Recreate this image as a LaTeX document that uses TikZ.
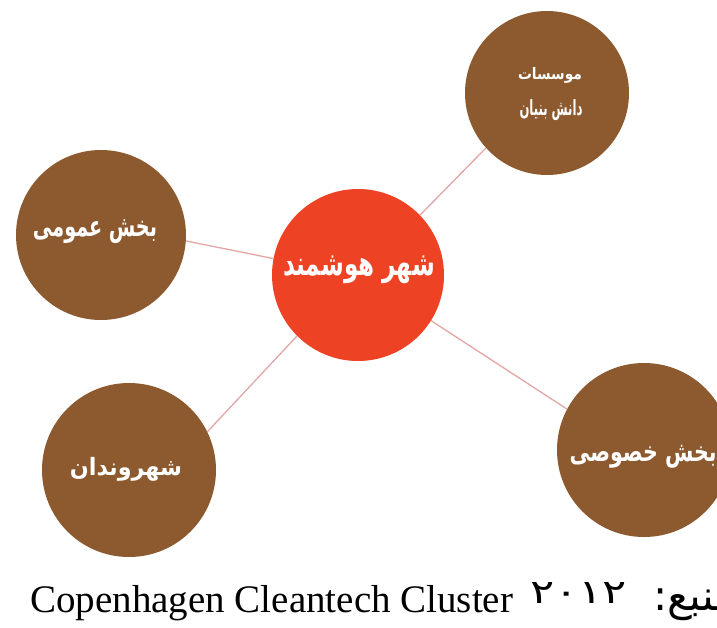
\documentclass[tikz,border=0pt]{standalone}
\usepackage{fontspec}
\setmainfont{Liberation Serif}
\newfontfamily\fafont[Script=Arabic]{DejaVu Sans}
\TeXXeTstate=1
\definecolor{brownc}{HTML}{8C5A2E}
\definecolor{redc}{HTML}{EE4224}
\definecolor{linec}{HTML}{E2A7A5}
\newcommand\fitw[3]{\resizebox*{#1}{#2}{#3}}
\begin{document}
\begin{tikzpicture}[x=1pt,y=-1pt,
  hub/.style={circle, fill=redc, minimum size=172pt, inner sep=0pt},
  sat/.style={circle, fill=brownc, minimum size=170pt, inner sep=0pt},
  link/.style={draw=linec, line width=1.3pt},
  lbl/.style={text=white, font=\fafont\bfseries, inner sep=0pt}]
\useasboundingbox (0,0) rectangle (717,627);
\clip (0,0) rectangle (717,627);
\fill[white] (0,0) rectangle (717,627);

\node[hub] (hub) at (358,275) {};
\node[sat, minimum size=164pt] (tr) at (547,93) {};
\node[sat] (lf) at (101,235) {};
\node[sat, minimum size=174pt] (bl) at (129,470) {};
\node[sat, minimum size=174pt] (br) at (644,450) {};

\node[lbl] (thub) at (359,270) {\fitw{152pt}{28pt}{\beginR شهر هوشمند\endR}};
\node[lbl] (ttr1) at (550,75) {\fitw{64pt}{16pt}{\beginR موسسات\endR}};
\node[lbl] (ttr2) at (551,110) {\fitw{63pt}{21pt}{\beginR دانش بنیان\endR}};
\node[lbl] (tlf) at (95,232) {\fitw{124pt}{24pt}{\beginR بخش عمومی\endR}};
\node[lbl] (tbl) at (126,469) {\fitw{112pt}{24pt}{\beginR شهروندان\endR}};
\node[lbl] (tbr) at (643,457) {\fitw{147pt}{23pt}{\beginR بخش خصوصی\endR}};

\draw[link] (hub.44.5) -- (tr.222.7);
\draw[link] (hub.169) -- (lf.-4.5);
\draw[link] (hub.225) -- (bl.26.6);
\draw[link] (hub.-32) -- (br.152);

\node[anchor=base west, inner sep=0pt, font=\fontsize{39}{40}\selectfont] (src) at (30,612) {Copenhagen Cleantech Cluster};
\node[anchor=south west, inner sep=0pt, font=\fafont] (yr) at (530,604) {\fitw{97pt}{21pt}{۲۰۱۲}};
\node[anchor=base west, inner sep=0pt, font=\fafont\fontsize{42}{44}\selectfont] (mnb) at (653,610) {\beginR منبع:\endR};
\end{tikzpicture}
\end{document}
